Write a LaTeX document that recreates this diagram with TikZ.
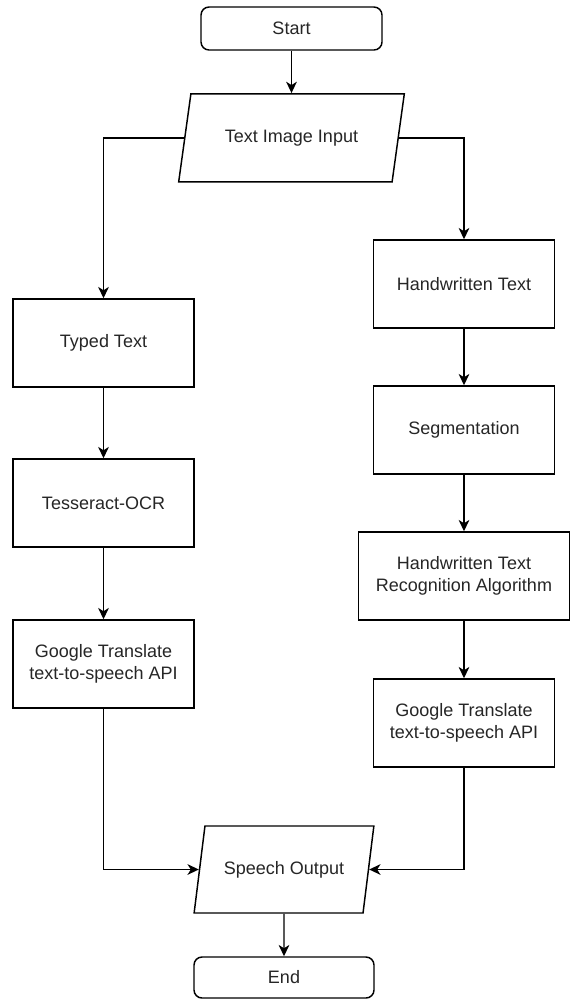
\documentclass[tikz,border=0pt]{standalone}
\usepackage{fontspec}
\setmainfont{Liberation Sans}
\usetikzlibrary{positioning,shapes.geometric,arrows.meta}

\begin{document}
\begin{tikzpicture}[x=0.75pt,y=-0.75pt,
    >={Stealth[length=8.5pt,width=8pt,inset=2.5pt]},
    flow/.style={->,line width=1.1pt},
    every node/.style={font=\fontsize{13.5}{16.3}\selectfont,text=black!85,line width=1.1pt},
    proc/.style={draw,fill=white,rectangle,align=center,minimum width=135.75pt,minimum height=66pt},
    term/.style={draw,fill=white,rectangle,rounded corners=6pt,minimum width=135.75pt,minimum height=32.25pt},
    io/.style={draw,fill=white,trapezium,trapezium left angle=71,trapezium right angle=109,
      trapezium stretches=true,minimum height=66pt}]
    \useasboundingbox (0,0) rectangle (570,1000);

    \node[term] (start) at (291.5,28.5) {Start};
    \node[io,minimum width=169.5pt] (in) [below of=start,node distance=82pt] {Text Image Input};

    % typed text branch
    \node[proc] (typed) at (103.5,343) {Typed Text};
    \node[proc] (tess) [below of=typed,node distance=120pt] {Tesseract-OCR};
    \node[proc] (gtl) [below of=tess,node distance=120.75pt] {Google Translate\\text-to-speech API};

    % handwritten text branch
    \node[proc] (hand) at (464,284) {Handwritten Text};
    \node[proc] (seg) [below of=hand,node distance=109.5pt] {Segmentation};
    \node[proc,minimum width=158.25pt] (htr) [below of=seg,node distance=109.5pt] {Handwritten Text\\Recognition Algorithm};
    \node[proc] (gtr) [below of=htr,node distance=110.25pt] {Google Translate\\text-to-speech API};

    \node[io,minimum width=135pt,minimum height=65.25pt] (out) at (284,869.5) {Speech Output};
    \node[term,minimum width=135pt,minimum height=30.75pt] (stop) [below of=out,node distance=81pt] {End};

    \draw[flow] (start) -- (in);
    \draw[flow] (in) -| (typed);
    \draw[flow] (in) -| (hand);
    \path[flow]
      (typed) edge (tess)
      (tess) edge (gtl)
      (hand) edge (seg)
      (seg) edge (htr)
      (htr) edge (gtr);
    \draw[flow] (gtl) |- (out);
    \draw[flow] (gtr) |- (out);
    \draw[flow] (out) -- (stop);
  \end{tikzpicture}
\end{document}
